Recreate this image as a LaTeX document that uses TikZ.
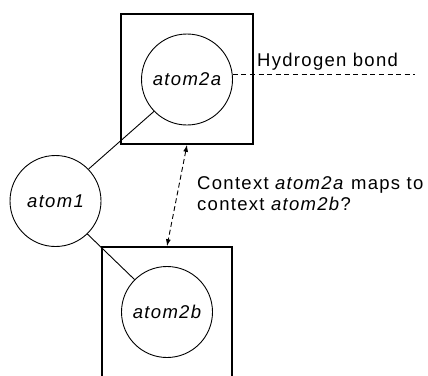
\documentclass[tikz,border=0pt]{standalone}
\usepackage{fontspec}
\setmainfont{Liberation Sans}[LetterSpace=7]
\usetikzlibrary{arrows.meta}
\begin{document}
\begin{tikzpicture}[x=1pt,y=-1pt,
  every node/.style={font=\fontsize{18.5}{21}\selectfont},
  atomnode/.style={circle,draw,line width=0.9pt,minimum size=91pt,inner sep=0pt,font=\fontsize{18.5}{21}\selectfont\itshape},
  ctxbox/.style={draw,line width=1.6pt,inner sep=0pt},
  bondline/.style={line width=0.9pt},
  hbline/.style={line width=0.9pt,dash pattern=on 5pt off 3.6pt},
  maparrow/.style={line width=0.9pt,dash pattern=on 5pt off 3pt,{Latex[length=7pt,width=5pt]}-{Latex[length=7pt,width=5pt]}},
  labeltext/.style={inner sep=0pt,anchor=base west}]
\useasboundingbox (0,0) rectangle (428,375);
% context boxes
\node[ctxbox,minimum width=132pt,minimum height=130pt] (boxA) at (187,79) {};
\node[ctxbox,minimum width=130pt,minimum height=130pt] (boxB) at (167,312) {};
% atoms
\node[atomnode] (atom2a) at (187,79.5) {atom2a};
\node[atomnode] (atom1) at (55.5,201) {atom1};
\node[atomnode] (atom2b) at (167,312) {atom2b};
% bonds
\draw[bondline] (atom1.44) -- (atom2a.224);
\draw[bondline] (atom1.-46) -- (atom2b.135);
% hydrogen bond
\coordinate (hbEnd) at (415,75);
\draw[hbline] (atom2a.6) -- (atom2a.6 -| hbEnd);
\node[labeltext] (hblabel) at (257,66) {Hydrogen bond};
% mapping arrow
\draw[maparrow] (boxA.south) -- (boxB.north);
\node[labeltext] (q1) at (197,189) {Context \textit{atom2a} maps to};
\node[labeltext] (q2) at (197,210) {context \textit{atom2b}?};
\end{tikzpicture}
\end{document}
